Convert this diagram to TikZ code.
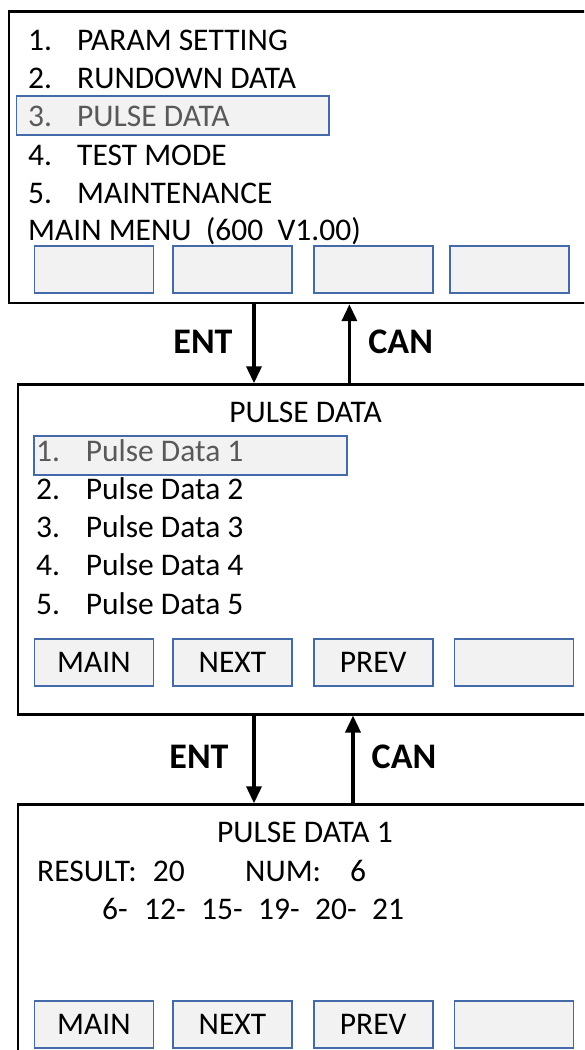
\documentclass[tikz,border=0pt]{standalone}
\usepackage{fontspec}
\setmainfont{Carlito}
\usetikzlibrary{arrows.meta}
\definecolor{btnblue}{RGB}{68,106,170}
\definecolor{btnfill}{RGB}{242,242,242}
\definecolor{selgray}{RGB}{89,89,89}
\begin{document}
\begin{tikzpicture}[x=1pt,y=-1pt,
  screen/.style={draw=black, line width=2.5pt, fill=white, anchor=north west, inner sep=0pt},
  btn/.style={draw=btnblue, fill=btnfill, line width=1.8pt, inner sep=0pt,
    minimum width=119pt, minimum height=47pt, font=\fontsize{31.5}{38}\selectfont},
  sel/.style={draw=btnblue, fill=btnfill, line width=1.8pt, inner sep=0pt,
    minimum width=312.6pt, minimum height=39pt},
  txt/.style={anchor=base west, inner sep=0pt, font=\fontsize{31.5}{38}\selectfont},
  ctxt/.style={anchor=base, inner sep=0pt, font=\fontsize{31.5}{38}\selectfont},
  keylbl/.style={anchor=base, inner sep=0pt, font=\fontsize{36}{42}\selectfont\bfseries},
  nav/.style={line width=3.5pt, -{Triangle[length=17pt,width=15pt]}}]
\useasboundingbox (0,0) rectangle (584,1050);
\clip (0,0) rectangle (584,1050);
% screens
\node[screen, minimum width=620pt, minimum height=291.7pt] (s1) at (7.8,10) {};
\node[screen, minimum width=620pt, minimum height=329.7pt] (s2) at (16.8,383.3) {};
\node[screen, minimum width=620pt, minimum height=300pt] (s3) at (16.8,803.3) {};
% screen 1
\node[sel] (sel1) at (172.8,115.2) {};
\node[txt] (a1n) at (28,50) {1.};   \node[txt] (a1t) at (77,50) {PARAM SETTING};
\node[txt] (a2n) at (28,88.3) {2.}; \node[txt] (a2t) at (77,88.3) {RUNDOWN DATA};
\node[txt, text=selgray] (a3n) at (28,126.7) {3.}; \node[txt, text=selgray] (a3t) at (77,126.7) {PULSE DATA};
\node[txt] (a4n) at (28,165) {4.};  \node[txt] (a4t) at (77,165) {TEST MODE};
\node[txt] (a5n) at (28,203.3) {5.}; \node[txt] (a5t) at (77,203.3) {MAINTENANCE};
\node[txt] (a6) at (28,240.7) {MAIN MENU\ \ (600\ \ V1.00)};
\node[btn] (b11) at (93.9,269.2) {};
\node[btn] (b12) at (232.4,269.2) {};
\node[btn] (b13) at (373.2,269.2) {};
\node[btn] (b14) at (509.1,269.2) {};
% arrows 1-2
\coordinate (e1) at (254,0);
\coordinate (c1) at (349.4,0);
\draw[nav] (s1.south -| e1) -- (s2.north -| e1);
\draw[nav] (s2.north -| c1) -- (s1.south -| c1);
\node[keylbl] (ent1) at (203,353.3) {ENT};
\node[keylbl] (can1) at (400.7,353.3) {CAN};
% screen 2
\node[ctxt] (t2) at (305.5,422.7) {PULSE DATA};
\node[sel] (sel2) at (190.5,455.5) {};
\node[txt, text=selgray] (p1n) at (36,461) {1.}; \node[txt, text=selgray] (p1t) at (85.6,461) {Pulse Data 1};
\node[txt] (p2n) at (36,499) {2.};   \node[txt] (p2t) at (85.6,499) {Pulse Data 2};
\node[txt] (p3n) at (36,537.3) {3.}; \node[txt] (p3t) at (85.6,537.3) {Pulse Data 3};
\node[txt] (p4n) at (36,575.7) {4.}; \node[txt] (p4t) at (85.6,575.7) {Pulse Data 4};
\node[txt] (p5n) at (36,614) {5.};   \node[txt] (p5t) at (85.6,614) {Pulse Data 5};
\node[btn] (b21) at (93.9,662.3) {MAIN};
\node[btn] (b22) at (232.4,662.3) {NEXT};
\node[btn] (b23) at (373.2,662.3) {PREV};
\node[btn] (b24) at (514,662.3) {};
% arrows 2-3
\coordinate (e2) at (254,0);
\coordinate (c2) at (353,0);
\draw[nav] (s2.south -| e2) -- (s3.north -| e2);
\draw[nav] (s3.north -| c2) -- (s2.south -| c2);
\node[keylbl] (ent2) at (199,768.3) {ENT};
\node[keylbl] (can2) at (404,768.3) {CAN};
% screen 3
\node[ctxt] (t3) at (305,842.7) {PULSE DATA 1};
\node[txt] (r1) at (37,881) {RESULT:};
\node[txt] (r2) at (152.7,881) {20};
\node[txt] (r3) at (245,881) {NUM:};
\node[txt] (r4) at (350,881) {6};
\node[txt] (n1) at (102,919) {6-};
\node[txt] (n2) at (144,919) {12-};
\node[txt] (n3) at (201,919) {15-};
\node[txt] (n4) at (258,919) {19-};
\node[txt] (n5) at (315,919) {20-};
\node[txt] (n6) at (372,919) {21};
\node[btn] (b31) at (93.9,1024.3) {MAIN};
\node[btn] (b32) at (232.4,1024.3) {NEXT};
\node[btn] (b33) at (373.2,1024.3) {PREV};
\node[btn] (b34) at (514,1024.3) {};
\end{tikzpicture}
\end{document}
